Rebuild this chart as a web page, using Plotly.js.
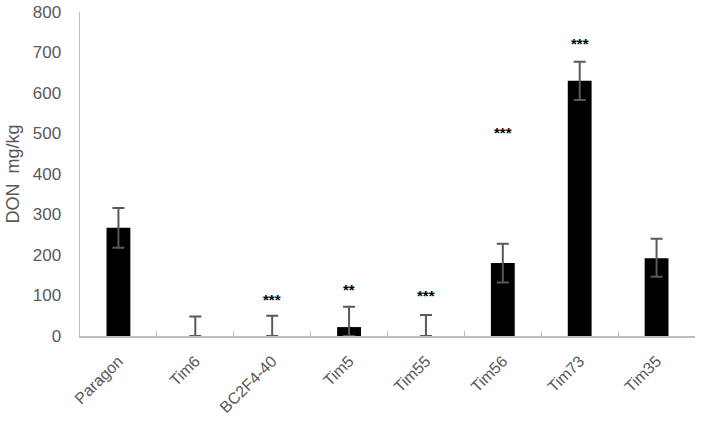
<!DOCTYPE html>
<html><head><meta charset="utf-8">
<script src="https://cdn.plot.ly/plotly-3.0.1.min.js"></script>
<style>body{margin:0;background:#fff}#c{width:708px;height:422px}</style>
</head><body><div id="c"></div>
<script>
const categories = ["Paragon","Tim6","BC2F4-40","Tim5","Tim55","Tim56","Tim73","Tim35"];
const donValues = [267, 0, 0, 22, 0, 180, 630, 192];
const errorPlus = [49, 48, 50, 50, 52, 48, 47, 48];
const errorMinus = [49, 0, 0, 22, 0, 48, 47, 46];
const starLabels = ["", "", "***", "**", "***", "***", "***", ""];
const starY = [0, 0, 91, 115, 99, 502, 723, 0];

const gray = "#595959";
const trace = {
  type: "bar",
  x: categories,
  y: donValues,
  marker: {color: "#000000"},
  width: 0.31,
  error_y: {type: "data", symmetric: false, array: errorPlus, arrayminus: errorMinus,
            color: gray, thickness: 2, width: 6},
  hoverinfo: "x+y"
};

const annotations = [];
categories.forEach((c, i) => {
  if (starLabels[i]) {
    annotations.push({x: c, y: starY[i], xref: "x", yref: "y", text: "<b>" + starLabels[i] + "</b>",
      showarrow: false, font: {family: "Liberation Sans, Arial, sans-serif", size: 15, color: "#000"}});
  }
});

const layout = {
  width: 708, height: 422,
  margin: {l: 80, r: 13, t: 12, b: 86},
  paper_bgcolor: "#fff", plot_bgcolor: "#fff",
  showlegend: false,
  font: {family: "Liberation Sans, Arial, sans-serif", color: gray, size: 16},
  xaxis: {
    type: "category",
    tickangle: -45,
    showline: true, linecolor: "#bfbfbf", linewidth: 1.5,
    ticks: "inside", tickson: "boundaries", ticklen: 5, tickcolor: "#bfbfbf",
    showgrid: false, zeroline: false,
    ticklabelstandoff: 8,
    tickfont: {size: 16, color: gray}
  },
  yaxis: {
    range: [0, 800], dtick: 100,
    showline: true, linecolor: "#bfbfbf", linewidth: 1.5,
    ticks: "", showgrid: false, zeroline: false,
    ticklabelstandoff: 14,
    tickfont: {size: 17, color: gray},
    title: {text: "DON&nbsp;&nbsp;mg/kg", font: {size: 18, color: gray}, standoff: 8}
  },
  annotations: annotations
};

Plotly.newPlot("c", [trace], layout, {displayModeBar: false, staticPlot: true});
</script></body></html>
